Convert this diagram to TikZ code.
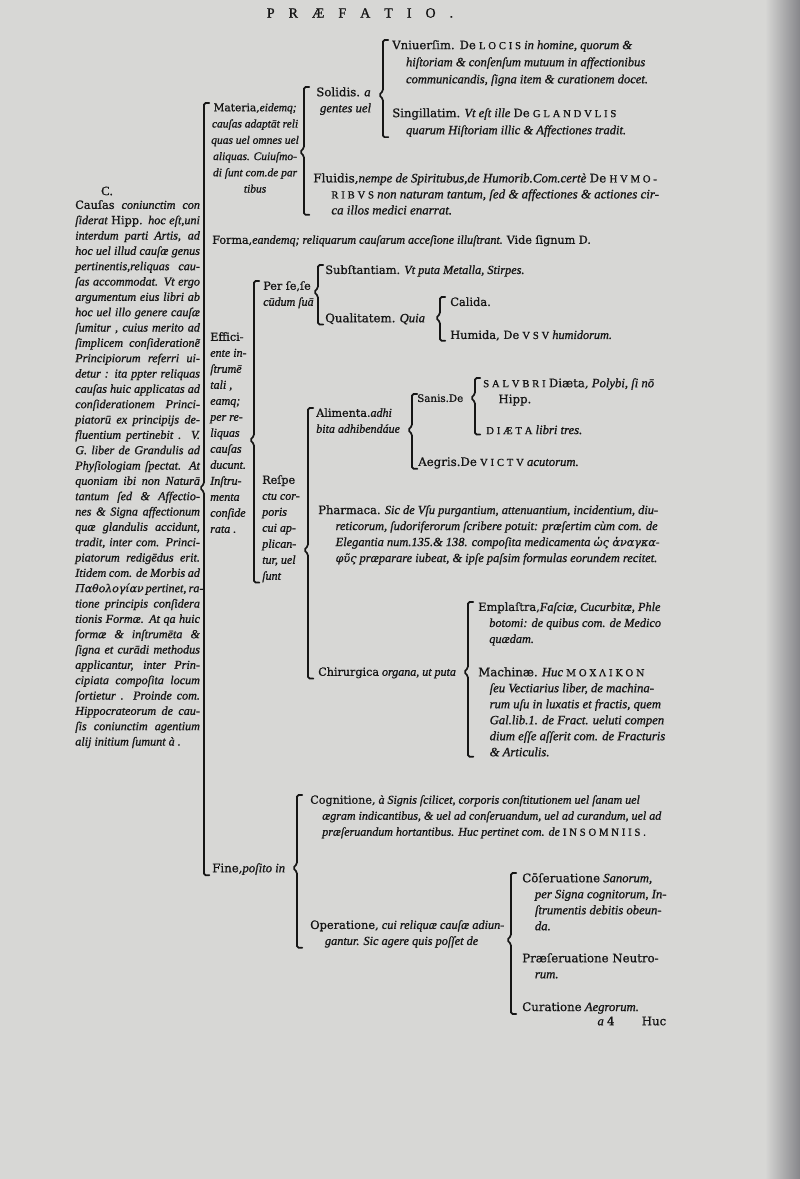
\documentclass[tikz,border=0pt]{standalone}
\usepackage{fontspec}
\setmainfont{Liberation Serif}[FakeBold=1.0]
\newfontfamily\grk{DejaVu Serif}[Scale=0.9,FakeBold=0.6]
\newfontfamily\romfont{DejaVu Serif}[Scale=0.93,FakeBold=0.9]
\usetikzlibrary{calc}
\definecolor{PagePaper}{HTML}{D7D7D5}
\definecolor{PageEdge}{HTML}{86868A}
\definecolor{PageInk}{HTML}{151515}
\newcommand\hd[1]{{\romfont\upshape #1}}
% spaced capitals
\def\spkern{2.1pt}
\def\spcloop#1#2\spcend{#1\ifx\relax#2\relax\else\kern\spkern\spcloop#2\spcend\fi}
\newcommand\spc[1]{{\upshape\fontsize{8}{12}\selectfont\spcloop#1\spcend}}
% justified line of the left column
\newcommand\jl[1]{\makebox[93.5pt][s]{#1}}
% brace: tip, first child, last child
\newcommand\tiebrace[3]{%
  \draw[brk] let \p1=(#1), \p2=(#2.north), \p3=(#3.south) in
    (\x1+7pt,\y2) -- (\x1+3pt,\y2) -- (\x1+3pt,\y1+3pt) -- (\x1,\y1)
    -- (\x1+3pt,\y1-3pt) -- (\x1+3pt,\y3) -- (\x1+7pt,\y3);}

\begin{document}
\begin{tikzpicture}[x=0.75pt,y=-0.75pt,
  txt/.style={anchor=north west,inner sep=0pt,align=left,text=PageInk,font=\fontsize{9.5}{12}\selectfont\itshape},
  small/.style={font=\fontsize{9}{12}\selectfont\itshape},
  brk/.style={draw=PageInk,line width=1.3pt,rounded corners=1.2pt,line cap=round}]
  \fill[PagePaper] (0,0) rectangle (800,1179);
  \shade[left color=PagePaper,right color=PageEdge] (765,0) rectangle (800,1179);
  \useasboundingbox (0,0) rectangle (800,1179);

  % heading
  \node[txt,anchor=center,font=\fontsize{10.5}{12}\selectfont] (hdr) at (360,13)
    {{\def\spkern{10.5pt}\spcloop PRÆFATIO.\spcend}};

  % left column
  \node[txt,anchor=center,font=\fontsize{9.5}{12}\selectfont] (cc) at (107,191) {C.};
  \node[txt,font=\fontsize{9.1}{11.5}\selectfont\itshape] (causa) at (75,200)
    {\jl{\hd{Cauſas} coniunctim con}\\\jl{ſiderat \hd{Hipp.} hoc eſt,uni}\\\jl{interdum parti Artis, ad}\\
     \jl{hoc uel illud cauſæ genus}\\\jl{pertinentis,reliquas cau-}\\\jl{ſas accommodat. Vt ergo}\\
     \jl{argumentum eius libri ab}\\\jl{hoc uel illo genere cauſæ}\\\jl{ſumitur , cuius merito ad}\\
     \jl{ſimplicem conſideratione͂}\\\jl{Principiorum referri ui-}\\\jl{detur : ita ppter reliquas}\\
     \jl{cauſas huic applicatas ad}\\\jl{conſiderationem Princi-}\\\jl{piatorū ex principijs de-}\\
     \jl{fluentium pertinebit . V.}\\\jl{G. liber de Grandulis ad}\\\jl{Phyſiologiam ſpectat. At}\\
     \jl{quoniam ibi non Naturā}\\\jl{tantum ſed \& Affectio-}\\\jl{nes \& Signa affectionum}\\
     \jl{quæ glandulis accidunt,}\\\jl{tradit, inter com. Princi-}\\\jl{piatorum redigēdus erit.}\\
     \jl{Itidem com. de Morbis ad}\\\jl{{\grk Παθολογίαν} pertinet, ra-}\\\jl{tione principis conſidera}\\
     \jl{tionis Formæ. At qa huic}\\\jl{formæ \& inſtrumēta \&}\\\jl{ſigna et curādi methodus}\\
     \jl{applicantur, inter Prin-}\\\jl{cipiata compoſita locum}\\\jl{ſortietur . Proinde com.}\\
     \jl{Hippocrateorum de cau-}\\\jl{ſis coniunctim agentium}\\alij initium ſumunt à .};

  % Materia
  \node[txt,align=center,font=\fontsize{8.6}{12.2}\selectfont\itshape] (mat) at (211,103)
    {\hd{Materia,}eidemq;\\cauſas adaptāt reli\\quas uel omnes uel\\aliquas. Cuiuſmo-\\di ſunt com.de par\\tibus};
  \node[txt] (solid) at (316,87) {\hd{Solidis.} a\\\hspace*{0.3em}gentes uel};
  \node[txt,font=\fontsize{9.4}{12.8}\selectfont\itshape] (vniu) at (392,40)
    {\hd{Vniuerſim. De} \spc{LOCIS} in homine, quorum \&\\
     \hspace*{1.1em}hiſtoriam \& conſenſum mutuum in affectionibus\\
     \hspace*{1.1em}communicandis, ſigna item \& curationem docet.};
  \node[txt,font=\fontsize{9.4}{12.8}\selectfont\itshape] (singi) at (392,108)
    {\hd{Singillatim.} Vt eſt ille \hd{De} \spc{GLANDVLIS}\\
     \hspace*{1.1em}quarum Hiſtoriam illic \& Affectiones tradit.};
  \node[txt,font=\fontsize{9.7}{12}\selectfont\itshape] (fluid) at (313,173)
    {\hd{Fluidis,}nempe de Spiritubus,de Humorib.Com.certè \hd{De} \spc{HVMO-}\\
     \hspace*{1.4em}\spc{RIBVS} non naturam tantum, ſed \& affectiones \& actiones cir-\\
     \hspace*{1.4em}ca illos medici enarrat.};

  % Forma
  \node[txt,font=\fontsize{9}{12}\selectfont\itshape] (forma) at (212,235)
    {\hd{Forma,}eandemq; reliquarum cauſarum acceſione illuſtrant. \hd{Vide ſignum D.}};

  % Efficiente
  \node[txt,small] (effic) at (210,332)
    {\hd{Effici-}\\ente in-\\ſtrumē\\tali ,\\eamq;\\per re-\\liquas\\cauſas\\ducunt.\\Inſtru-\\menta\\conſide\\rata .};
  \node[txt,small] (perse) at (263,281) {\hd{Per ſe,ſe}\\cūdum ſuā};
  \node[txt,font=\fontsize{9.2}{12}\selectfont\itshape] (subst) at (325,265) {\hd{Subſtantiam.} Vt puta Metalla, Stirpes.};
  \node[txt] (quali) at (325,313) {\hd{Qualitatem.} Quia};
  \node[txt,font=\fontsize{9.2}{12}\selectfont\itshape] (calid) at (450,297) {\hd{Calida.}};
  \node[txt,font=\fontsize{9.2}{12}\selectfont\itshape] (humid) at (450,330) {\hd{Humida, De} \spc{VSV} humidorum.};
  \node[txt,small] (respe) at (262,475)
    {\hd{Reſpe}\\ctu cor-\\poris\\cui ap-\\plican-\\tur, uel\\ſunt};
  \node[txt,small] (alim) at (316,408) {\hd{Alimenta.}adhi\\bita adhibendáue};
  \node[txt,font=\fontsize{8.3}{12}\selectfont\itshape] (sanis) at (417,394) {\hd{Sanis.De}};
  \node[txt] (salub) at (483,378) {\spc{SALVBRI} \hd{Diæta,} Polybi, ſi nō\\\hspace*{1.2em}\hd{Hipp.}};
  \node[txt] (diaeta) at (486,425) {\spc{DIÆTA} libri tres.};
  \node[txt] (aegr) at (418,457) {\hd{Aegris.De} \spc{VICTV} acutorum.};
  \node[txt,font=\fontsize{9.3}{12}\selectfont\itshape] (pharm) at (318,505)
    {\hd{Pharmaca.} Sic de Vſu purgantium, attenuantium, incidentium, diu-\\
     \hspace*{1.4em}reticorum, ſudoriferorum ſcribere potuit: præſertim cùm com. de\\
     \hspace*{1.4em}Elegantia num.135.\& 138. compoſita medicamenta {\grk ὡς ἀναγκα-}\\
     \hspace*{1.4em}{\grk φῦς} præparare iubeat, \& ipſe paſsim formulas eorundem recitet.};
  \node[txt,font=\fontsize{9}{12}\selectfont\itshape] (chir) at (318,667) {\hd{Chirurgica} organa, ut puta};
  \node[txt,font=\fontsize{9.2}{12}\selectfont\itshape] (empl) at (478,602)
    {\hd{Emplaſtra,}Faſciæ, Cucurbitæ, Phle\\\hspace*{0.9em}botomi: de quibus com. de Medico\\\hspace*{0.9em}quædam.};
  \node[txt] (mach) at (478,667)
    {\hd{Machinæ.} Huc {\grk\spc{ΜΟΧΛΙΚΟΝ}}\\\hspace*{0.9em}ſeu Vectiarius liber, de machina-\\
     \hspace*{0.9em}rum uſu in luxatis et fractis, quem\\\hspace*{0.9em}Gal.lib.1. de Fract. ueluti compen\\
     \hspace*{0.9em}dium eſſe aſſerit com. de Fracturis\\\hspace*{0.9em}\& Articulis.};

  % Fine
  \node[txt] (fine) at (212,863) {\hd{Fine,}poſito in};
  \node[txt,font=\fontsize{9}{12}\selectfont\itshape] (cogn) at (310,795)
    {\hd{Cognitione,} à Signis ſcilicet, corporis conſtitutionem uel ſanam uel\\
     \hspace*{1em}ægram indicantibus, \& uel ad conſeruandum, uel ad curandum, uel ad\\
     \hspace*{1em}præſeruandum hortantibus. Huc pertinet com. de \spc{INSOMNIIS.}};
  \node[txt,font=\fontsize{9.2}{12}\selectfont\itshape] (oper) at (310,920)
    {\hd{Operatione,} cui reliquæ cauſæ adiun-\\\hspace*{1.2em}gantur. Sic agere quis poſſet de};
  \node[txt] (cons) at (522,873)
    {\hd{Cōſeruatione} Sanorum,\\\hspace*{1em}per Signa cognitorum, In-\\\hspace*{1em}ſtrumentis debitis obeun-\\\hspace*{1em}da.};
  \node[txt] (praes) at (522,953) {\hd{Præſeruatione Neutro-}\\\hspace*{1em}rum.};
  \node[txt] (curat) at (522,1002) {\hd{Curatione} Aegrorum.};

  % foot line
  \node[txt,anchor=center] (sig) at (606,1021) {a \hd{4}};
  \node[txt,anchor=center,font=\fontsize{9.5}{12}\selectfont] (catch) at (654,1021) {\hd{Huc}};

  % brace tips
  \coordinate (causa-tip) at (200,488);
  \coordinate (mat-tip) at (300,152);
  \coordinate (solid-tip) at (379,95);
  \coordinate (effic-tip) at (250,440);
  \coordinate (perse-tip) at (314,292);
  \coordinate (quali-tip) at (436,318);
  \coordinate (respe-tip) at (304,550);
  \coordinate (alim-tip) at (408,430);
  \coordinate (sanis-tip) at (471,398);
  \coordinate (chir-tip) at (464,672);
  \coordinate (fine-tip) at (293,868);
  \coordinate (oper-tip) at (507,940);

  \tiebrace{causa-tip}{mat}{fine}
  \tiebrace{mat-tip}{solid}{fluid}
  \tiebrace{solid-tip}{vniu}{singi}
  \tiebrace{effic-tip}{perse}{respe}
  \tiebrace{perse-tip}{subst}{quali}
  \tiebrace{quali-tip}{calid}{humid}
  \tiebrace{respe-tip}{alim}{chir}
  \tiebrace{alim-tip}{sanis}{aegr}
  \tiebrace{sanis-tip}{salub}{diaeta}
  \tiebrace{chir-tip}{empl}{mach}
  \tiebrace{fine-tip}{cogn}{oper}
  \tiebrace{oper-tip}{cons}{curat}
\end{tikzpicture}
\end{document}
